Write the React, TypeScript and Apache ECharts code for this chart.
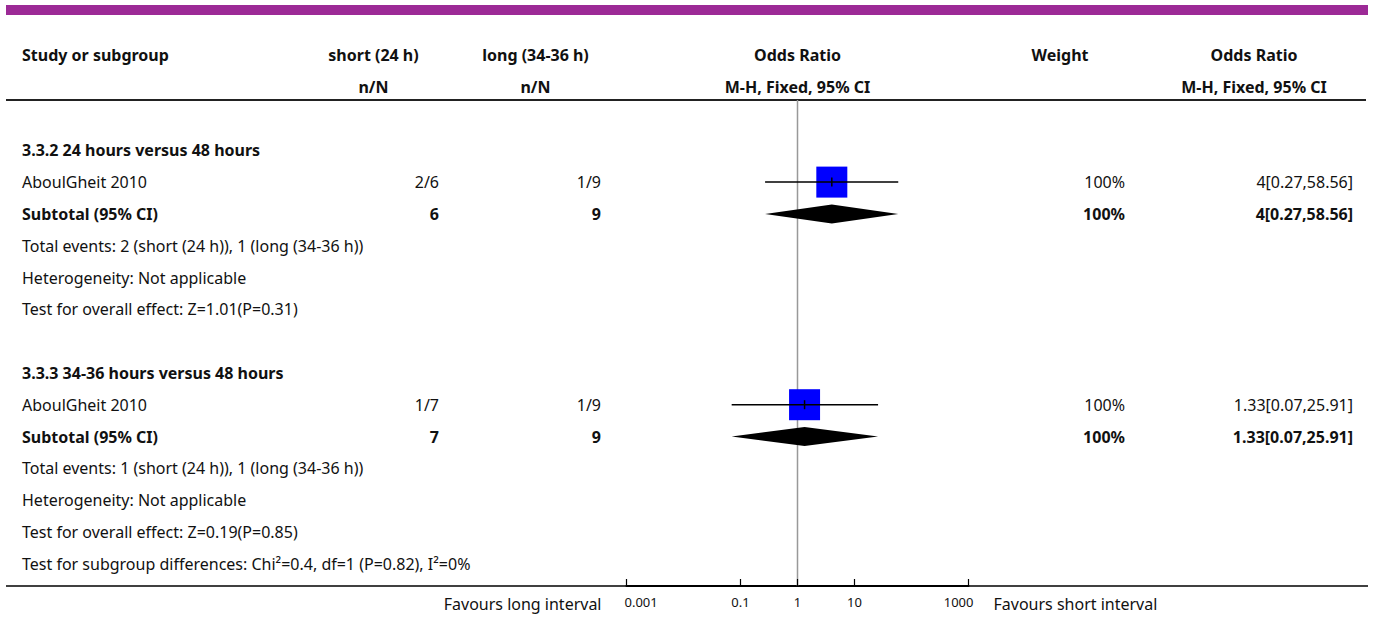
import React, { useEffect, useRef } from "react";
import * as echarts from "echarts";

// ---------- data ----------
const groupTitles = ["3.3.2 24 hours versus 48 hours", "3.3.3 34-36 hours versus 48 hours"];
const studyNames = ["AboulGheit 2010", "AboulGheit 2010"];
const shortLabel = "short (24 h)";
const longLabel = "long (34-36 h)";
const shortEvents = [2, 1];
const shortTotals = [6, 7];
const longEvents = [1, 1];
const longTotals = [9, 9];
const oddsRatios = [4, 1.33];
const ciLows = [0.27, 0.07];
const ciHighs = [58.56, 25.91];
const weights = [100, 100];
const pooledOR = [4, 1.33];
const pooledLow = [0.27, 0.07];
const pooledHigh = [58.56, 25.91];
const heterogeneity = ["Not applicable", "Not applicable"];
const zValues = ["1.01", "0.19"];
const pValues = ["0.31", "0.85"];
const subgroupTest = "Test for subgroup differences: Chi\u00b2=0.4, df=1 (P=0.82), I\u00b2=0%";
const tickValues = [0.001, 0.1, 1, 10, 1000];
const tickLabels = ["0.001", "0.1", "1", "10", "1000"];
const favoursLeft = "Favours long interval";
const favoursRight = "Favours short interval";
const headerTop = ["Study or subgroup", shortLabel, longLabel, "Odds Ratio", "Weight", "Odds Ratio"];
const headerBottom = ["", "n/N", "n/N", "M-H, Fixed, 95% CI", "", "M-H, Fixed, 95% CI"];

// ---------- layout ----------
const FONT_FAMILY = '"Noto Sans", sans-serif';
const TEXT_COLOR = "#111";
const X_STUDY = 22;
const C_SHORT = 373.5;
const R_SHORT = 439;
const C_LONG = 535.5;
const R_LONG = 601;
const C_WEIGHT = 1060;
const R_WEIGHT = 1125;
const C_OR = 1254;
const R_OR = 1353;
const Y_MIN = -1.582;
const Y_MAX = 13.701;
const BOX = 31;
const DIAMOND_HALF = 9.5;

type Row = { kind: string; g: number; y: number };
const rows: Row[] = [];
rows.push({ kind: "header1", g: -1, y: -3 });
rows.push({ kind: "header2", g: -1, y: -2 });
let rowIdx = 0;
groupTitles.forEach((_, g) => {
  if (g > 0) rowIdx++; // blank spacer row
  ["heading", "study", "subtotal", "events", "het", "effect"].forEach((k) => {
    rows.push({ kind: k, g, y: rowIdx });
    rowIdx++;
  });
});
rows.push({ kind: "subgroup", g: -1, y: rowIdx });

const rowOf = (kind: string, g: number) => rows.find((r) => r.kind === kind && r.g === g)!.y;

const fmtCI = (o: number, l: number, h: number) => `${o}[${l.toFixed(2)},${h.toFixed(2)}]`;

function txt(x: number, y: number, text: string, align: string, bold = false, size = 16) {
  const font = `${bold ? "bold " : ""}${size}px ${FONT_FAMILY}`;
  return {
    type: "text",
    x,
    y,
    style: {
      text,
      fill: TEXT_COLOR,
      font,
      align,
      verticalAlign: "middle",
      textAlign: align,
      textVerticalAlign: "middle",
    },
  };
}

function buildOption() {
  const tableData = rows.map((r) => [1, r.y]);
  const studyData = studyNames.map((_, g) => [oddsRatios[g], ciLows[g], ciHighs[g], rowOf("study", g), weights[g]]);
  const pooledData = groupTitles.map((_, g) => [pooledOR[g], pooledLow[g], pooledHigh[g], rowOf("subtotal", g)]);
  const tickData = tickValues.map((v) => [v, Y_MAX]);

  return {
    animation: false,
    grid: { left: 626.5, right: 404.5, top: 100, bottom: 33, containLabel: false },
    xAxis: {
      type: "log",
      logBase: 10,
      min: 0.001,
      max: 1000,
      position: "bottom",
      axisLine: { show: true, onZero: false, lineStyle: { color: "#000", width: 2 } },
      axisTick: { show: false },
      axisLabel: { show: false },
      splitLine: { show: false },
    },
    yAxis: {
      type: "value",
      inverse: true,
      min: Y_MIN,
      max: Y_MAX,
      show: false,
      splitLine: { show: false },
    },
    graphic: [
      { type: "rect", shape: { x: 6, y: 5, width: 1362, height: 10 }, style: { fill: "#9c2a96" } },
      { type: "line", shape: { x1: 6, y1: 100, x2: 1366, y2: 100 }, style: { stroke: "#222", lineWidth: 2 } },
      { type: "line", shape: { x1: 6, y1: 586, x2: 1368, y2: 586 }, style: { stroke: "#000", lineWidth: 1.5 } },
    ],
    series: [
      // reference line at OR = 1
      {
        type: "custom",
        silent: true,
        data: [[1, Y_MIN, Y_MAX]],
        renderItem: (_p: any, api: any) => {
          const a = api.coord([1, Y_MIN]);
          const b = api.coord([1, Y_MAX]);
          return {
            type: "line",
            shape: { x1: a[0], y1: a[1], x2: b[0], y2: b[1] },
            style: { stroke: "#999", lineWidth: 1.5 },
          };
        },
      },
      // table text
      {
        type: "custom",
        silent: true,
        data: tableData,
        renderItem: (params: any, api: any) => {
          const r = rows[params.dataIndex];
          const p = api.coord([1, api.value(1)]);
          const y = p[1];
          const cx = p[0];
          const ch: any[] = [];
          const g = r.g;
          switch (r.kind) {
            case "header1":
              ch.push(txt(X_STUDY, y, headerTop[0], "left", true));
              ch.push(txt(C_SHORT, y, headerTop[1], "center", true));
              ch.push(txt(C_LONG, y, headerTop[2], "center", true));
              ch.push(txt(cx, y, headerTop[3], "center", true));
              ch.push(txt(C_WEIGHT, y, headerTop[4], "center", true));
              ch.push(txt(C_OR, y, headerTop[5], "center", true));
              break;
            case "header2":
              ch.push(txt(C_SHORT, y, headerBottom[1], "center", true));
              ch.push(txt(C_LONG, y, headerBottom[2], "center", true));
              ch.push(txt(cx, y, headerBottom[3], "center", true));
              ch.push(txt(C_OR, y, headerBottom[5], "center", true));
              break;
            case "heading":
              ch.push(txt(X_STUDY, y, groupTitles[g], "left", true));
              break;
            case "study":
              ch.push(txt(X_STUDY, y, studyNames[g], "left"));
              ch.push(txt(R_SHORT, y, `${shortEvents[g]}/${shortTotals[g]}`, "right"));
              ch.push(txt(R_LONG, y, `${longEvents[g]}/${longTotals[g]}`, "right"));
              ch.push(txt(R_WEIGHT, y, `${weights[g]}%`, "right"));
              ch.push(txt(R_OR, y, fmtCI(oddsRatios[g], ciLows[g], ciHighs[g]), "right"));
              break;
            case "subtotal":
              ch.push(txt(X_STUDY, y, "Subtotal (95% CI)", "left", true));
              ch.push(txt(R_SHORT, y, `${shortTotals[g]}`, "right", true));
              ch.push(txt(R_LONG, y, `${longTotals[g]}`, "right", true));
              ch.push(txt(R_WEIGHT, y, `${weights[g]}%`, "right", true));
              ch.push(txt(R_OR, y, fmtCI(pooledOR[g], pooledLow[g], pooledHigh[g]), "right", true));
              break;
            case "events":
              ch.push(
                txt(X_STUDY, y, `Total events: ${shortEvents[g]} (${shortLabel}), ${longEvents[g]} (${longLabel})`, "left")
              );
              break;
            case "het":
              ch.push(txt(X_STUDY, y, `Heterogeneity: ${heterogeneity[g]}`, "left"));
              break;
            case "effect":
              ch.push(txt(X_STUDY, y, `Test for overall effect: Z=${zValues[g]}(P=${pValues[g]})`, "left"));
              break;
            case "subgroup":
              ch.push(txt(X_STUDY, y, subgroupTest, "left"));
              break;
          }
          return { type: "group", children: ch };
        },
      },
      // study squares + CI lines
      {
        type: "custom",
        silent: true,
        z: 3,
        data: studyData,
        renderItem: (_p: any, api: any) => {
          const row = api.value(3);
          const c = api.coord([api.value(0), row]);
          const lo = api.coord([api.value(1), row]);
          const hi = api.coord([api.value(2), row]);
          const s = BOX * Math.sqrt(api.value(4) / 100);
          return {
            type: "group",
            children: [
              { type: "rect", shape: { x: c[0] - s / 2, y: c[1] - s / 2, width: s, height: s }, style: { fill: "#0000ff" } },
              { type: "line", shape: { x1: lo[0], y1: c[1], x2: hi[0], y2: c[1] }, style: { stroke: "#000", lineWidth: 1.5 } },
              { type: "line", shape: { x1: c[0], y1: c[1] - 4.5, x2: c[0], y2: c[1] + 4.5 }, style: { stroke: "#000", lineWidth: 1.5 } },
            ],
          };
        },
      },
      // pooled diamonds
      {
        type: "custom",
        silent: true,
        z: 3,
        data: pooledData,
        renderItem: (_p: any, api: any) => {
          const row = api.value(3);
          const c = api.coord([api.value(0), row]);
          const lo = api.coord([api.value(1), row]);
          const hi = api.coord([api.value(2), row]);
          return {
            type: "polygon",
            shape: {
              points: [
                [lo[0], c[1]],
                [c[0], c[1] - DIAMOND_HALF],
                [hi[0], c[1]],
                [c[0], c[1] + DIAMOND_HALF],
              ],
            },
            style: { fill: "#000" },
          };
        },
      },
      // axis ticks, tick labels, favours labels
      {
        type: "custom",
        silent: true,
        data: tickData,
        renderItem: (params: any, api: any) => {
          const i = params.dataIndex;
          const p = api.coord([api.value(0), Y_MAX]);
          const n = tickValues.length;
          const align = i === 0 ? "left" : i === n - 1 ? "right" : "center";
          const ch: any[] = [
            { type: "line", shape: { x1: p[0], y1: p[1], x2: p[0], y2: p[1] - 7 }, style: { stroke: "#000", lineWidth: 1.2 } },
            txt(p[0] - (i === 0 ? 2 : i === n - 1 ? -5 : 0), p[1] + 16, tickLabels[i], align, false, 13),
          ];
          if (i === 0) ch.push(txt(p[0] - 25, p[1] + 18, favoursLeft, "right"));
          if (i === n - 1) ch.push(txt(p[0] + 25, p[1] + 18, favoursRight, "left"));
          return { type: "group", children: ch };
        },
      },
    ],
  };
}

export default function App() {
  const ref = useRef<HTMLDivElement>(null);
  useEffect(() => {
    document.body.style.margin = "0";
    const chart = echarts.init(ref.current!, null, { renderer: "svg" });
    chart.setOption(buildOption() as any);
    return () => chart.dispose();
  }, []);
  return <div ref={ref} style={{ width: 1373, height: 619 }} />;
}
